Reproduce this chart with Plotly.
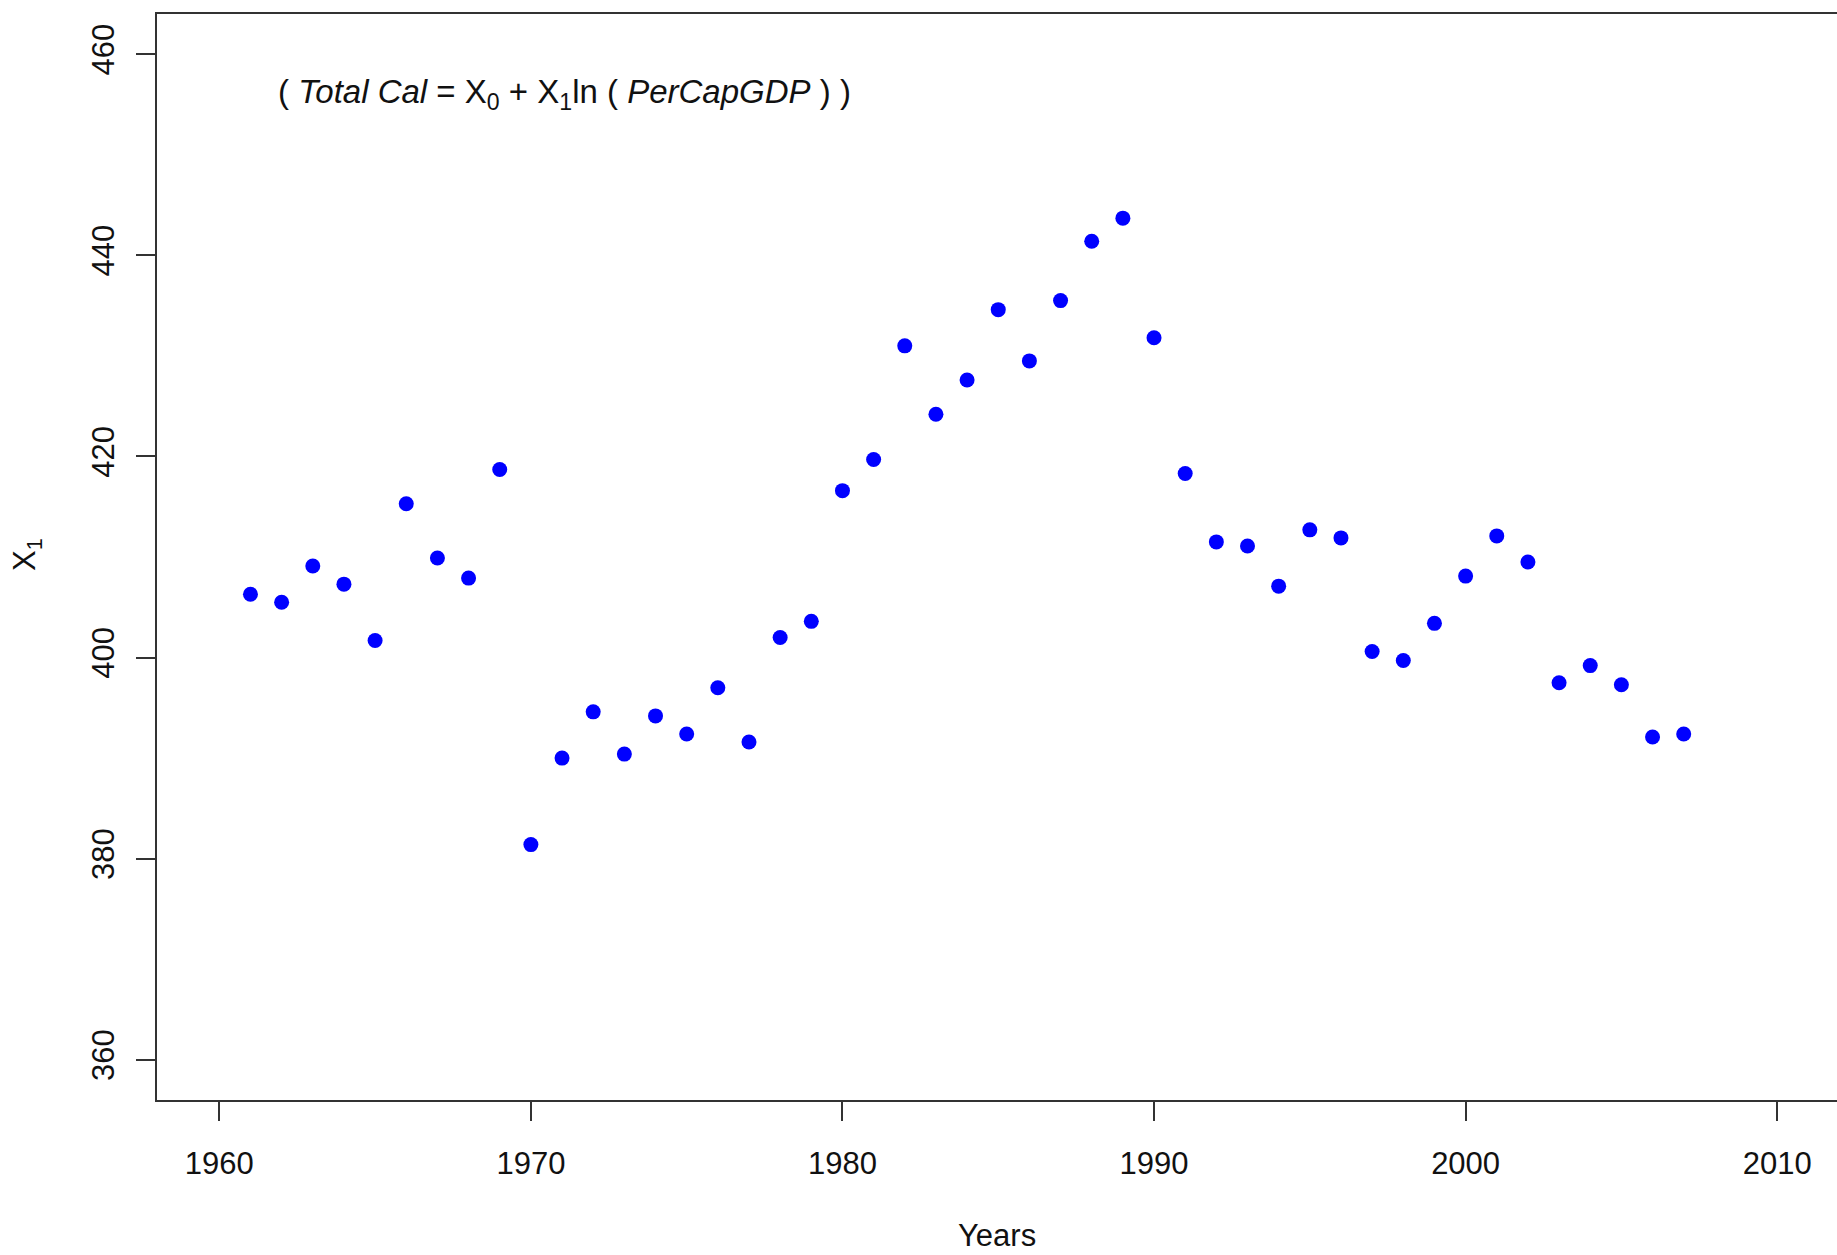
import plotly.graph_objects as go

years = list(range(1961, 2008))
x1_values = [
    406.3, 405.5, 409.1, 407.3, 401.7, 415.3, 409.9, 407.9, 418.7, 381.4,
    390.0, 394.6, 390.4, 394.2, 392.4, 397.0, 391.6, 402.0, 403.6, 416.6,
    419.7, 431.0, 424.2, 427.6, 434.6, 429.5, 435.5, 441.4, 443.7, 431.8,
    418.3, 411.5, 411.1, 407.1, 412.7, 411.9, 400.6, 399.7, 403.4, 408.1,
    412.1, 409.5, 397.5, 399.2, 397.3, 392.1, 392.4,
]
x_ticks = [1960, 1970, 1980, 1990, 2000, 2010]
y_ticks = [360, 380, 400, 420, 440, 460]

FONT = "Liberation Sans, Arial, sans-serif"

fig = go.Figure()
fig.add_trace(go.Scatter(
    x=years, y=x1_values, mode="markers",
    marker=dict(color="#0000FF", size=15, line=dict(width=0)),
    showlegend=False,
))

axis_common = dict(
    showgrid=False, zeroline=False, showline=True, linecolor="#333333", linewidth=2,
    ticks="outside", tickcolor="#333333", tickwidth=2,
    tickfont=dict(family=FONT, size=31, color="#111111"),
)

fig.update_layout(
    width=1837, height=1255,
    margin=dict(l=157, r=0, t=14, b=155, pad=0),
    paper_bgcolor="white", plot_bgcolor="white",
    xaxis=dict(range=[1958, 2011.92], tickvals=x_ticks, ticklen=19, mirror=True,
               ticklabelstandoff=16, **axis_common),
    yaxis=dict(range=[356, 464], tickvals=y_ticks, ticklen=19, tickangle=-90,
               ticklabelstandoff=10, **axis_common),
    annotations=[
        dict(text="Years", xref="paper", yref="paper", x=(997 - 157) / 1680,
             y=-(1235 - 1100) / 1086, xanchor="center", yanchor="middle",
             showarrow=False, font=dict(family=FONT, size=31, color="#111111")),
        dict(text="X<sub>1</sub>", xref="paper", yref="paper", x=-(157 - 27) / 1680,
             y=(1100 - 555) / 1086, xanchor="center", yanchor="middle", textangle=-90,
             showarrow=False, font=dict(family=FONT, size=31, color="#111111")),
        dict(text="( <i>Total Cal</i> = X<sub>0</sub> + X<sub>1</sub>ln ( <i>PerCapGDP</i> ) )",
             xref="paper", yref="paper", x=(276 - 157) / 1680, y=(1100 - 94) / 1086,
             xanchor="left", yanchor="middle", showarrow=False,
             font=dict(family=FONT, size=33, color="#111111")),
    ],
)

fig.write_html("out.html")
